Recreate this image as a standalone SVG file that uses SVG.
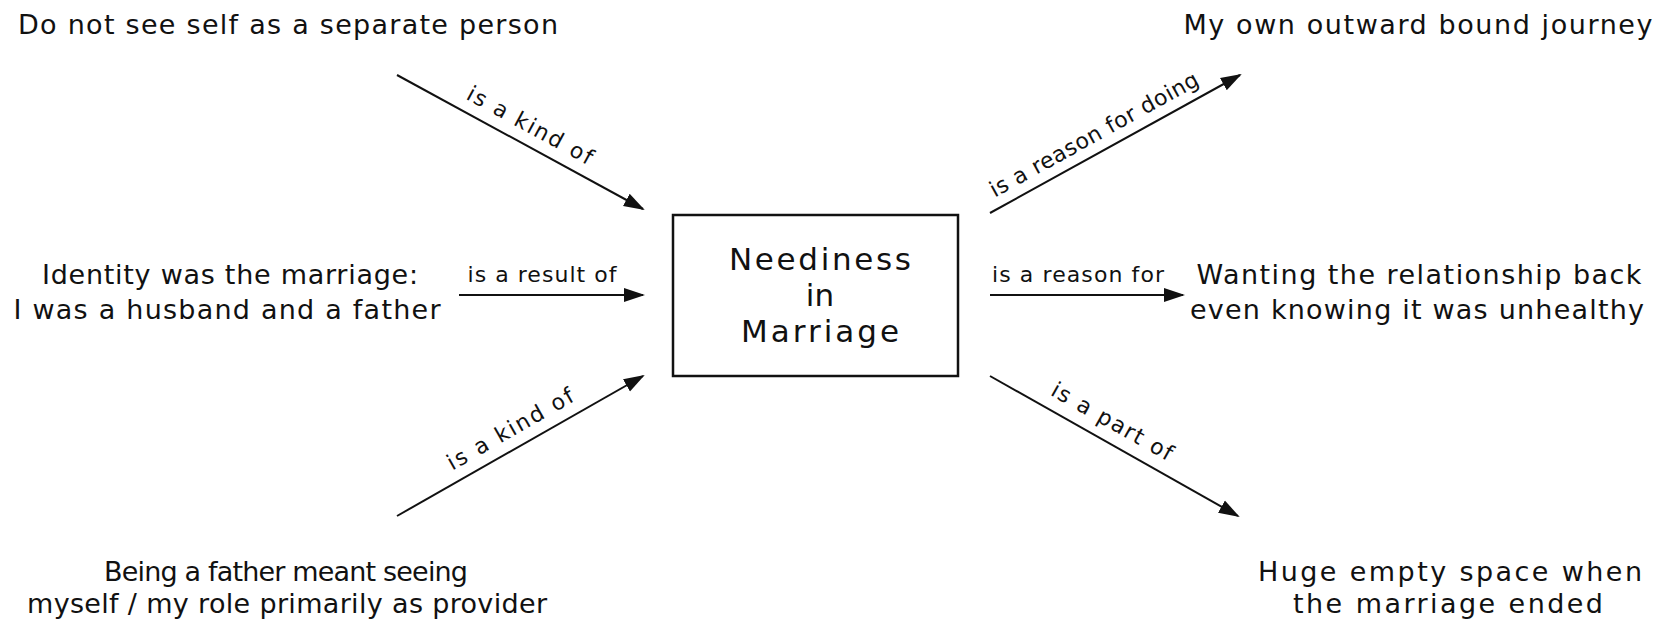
<svg xmlns="http://www.w3.org/2000/svg" width="1673" height="620" viewBox="0 0 1673 620">
<style>
.t{font-family:"DejaVu Sans","Liberation Sans",sans-serif;font-size:27px;fill:#111;text-anchor:middle}
.l{font-family:"DejaVu Sans","Liberation Sans",sans-serif;font-size:22px;fill:#111;text-anchor:middle}
.c{stroke:#111;stroke-width:2;fill:none;marker-end:url(#ah)}
.box{fill:#fff;stroke:#111;stroke-width:2.5}
.bt{font-family:"DejaVu Sans","Liberation Sans",sans-serif;font-size:31px;fill:#111;text-anchor:middle}
</style>
<defs>
<marker id="ah" markerUnits="userSpaceOnUse" markerWidth="22" markerHeight="16" refX="19" refY="8" orient="auto"><path d="M0,1 L21,8 L0,15 z" fill="#111"/></marker>
</defs>
<rect width="1673" height="620" fill="#fff"/>
<g id="center">
<rect class="box" x="673" y="215" width="285" height="161"/>
<text class="bt" x="820" y="270" textLength="182" lengthAdjust="spacing">Neediness</text>
<text class="bt" x="820" y="306">in</text>
<text class="bt" x="820" y="342" textLength="158" lengthAdjust="spacing">Marriage</text>
</g>
<g id="n-separate"><text class="t" x="288" y="34" textLength="540" lengthAdjust="spacing">Do not see self as a separate person</text></g>
<g id="n-identity">
<text class="t" x="230" y="284" textLength="376" lengthAdjust="spacing">Identity was the marriage:</text>
<text class="t" x="227" y="319" textLength="427" lengthAdjust="spacing">I was a husband and a father</text>
</g>
<g id="n-father">
<text class="t" x="286" y="581" textLength="364" lengthAdjust="spacing">Being a father meant seeing</text>
<text class="t" x="287" y="613" textLength="520" lengthAdjust="spacing">myself / my role primarily as provider</text>
</g>
<g id="n-journey"><text class="t" x="1418" y="34" textLength="469" lengthAdjust="spacing">My own outward bound journey</text></g>
<g id="n-wanting">
<text class="t" x="1419" y="284" textLength="445" lengthAdjust="spacing">Wanting the relationship back</text>
<text class="t" x="1417" y="319" textLength="454" lengthAdjust="spacing">even knowing it was unhealthy</text>
</g>
<g id="n-space">
<text class="t" x="1450" y="581" textLength="384" lengthAdjust="spacing">Huge empty space when</text>
<text class="t" x="1448" y="613" textLength="310" lengthAdjust="spacing">the marriage ended</text>
</g>
<g id="connectors">
<line class="c" x1="397" y1="75" x2="643" y2="209"/>
<line class="c" x1="459" y1="295" x2="643" y2="295"/>
<line class="c" x1="397" y1="516" x2="643" y2="376"/>
<line class="c" x1="990" y1="213" x2="1240" y2="75"/>
<line class="c" x1="990" y1="295" x2="1183" y2="295"/>
<line class="c" x1="990" y1="376" x2="1238" y2="516"/>
<g transform="translate(520.8,142.4) rotate(28.58)"><text class="l" x="0" y="-12" textLength="140" lengthAdjust="spacing">is a kind of</text></g>
<text class="l" x="542" y="282" textLength="149" lengthAdjust="spacing">is a result of</text>
<g transform="translate(520,446) rotate(-29.65)"><text class="l" x="0" y="-12" textLength="142" lengthAdjust="spacing">is a kind of</text></g>
<g transform="translate(1103,150.6) rotate(-28.9)"><text class="l" x="0" y="-11" textLength="235" lengthAdjust="spacing">is a reason for doing</text></g>
<text class="l" x="1078" y="282" textLength="172" lengthAdjust="spacing">is a reason for</text>
<g transform="translate(1102.2,439.3) rotate(29.45)"><text class="l" x="0" y="-13" textLength="136" lengthAdjust="spacing">is a part of</text></g>
</g>
</svg>
